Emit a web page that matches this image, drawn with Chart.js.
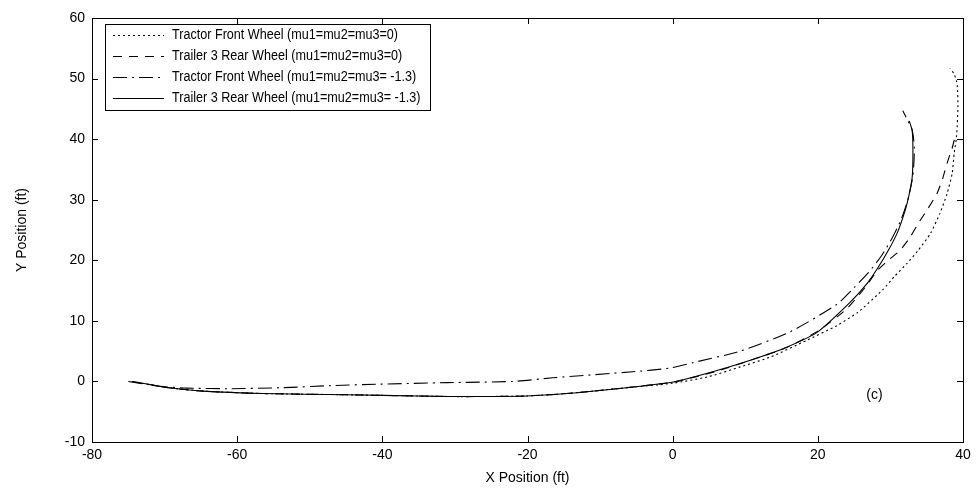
<!DOCTYPE html>
<html>
<head>
<meta charset="utf-8">
<script src="https://cdn.jsdelivr.net/npm/chart.js@4.4.1/dist/chart.umd.min.js"></script>
<style>
  html, body { margin: 0; padding: 0; background: #fff; }
</style>
</head>
<body>
<canvas id="chart" width="979" height="492"></canvas>
<script>
/* ─── DATA (ft) ─────────────────────────────────────── */
const seriesLabels = [
  "Tractor Front Wheel (mu1=mu2=mu3=0)",
  "Trailer 3 Rear Wheel (mu1=mu2=mu3=0)",
  "Tractor Front Wheel (mu1=mu2=mu3= -1.3)",
  "Trailer 3 Rear Wheel (mu1=mu2=mu3= -1.3)"
];

const xTicks = [-80, -60, -40, -20, 0, 20, 40];
const yTicks = [-10, 0, 10, 20, 30, 40, 50, 60];

const frontMu0X = [-74.5, -69.7, -64.7, -56.4, -44.9, -29.8, -20.1, -14.6, -7.7, 0.0, 5.0, 9.3, 13.4, 18.5, 22.6, 25.5, 29.0, 30.6, 32.3, 33.8, 35.5, 36.8, 37.8, 38.5, 38.8, 39.1, 39.3, 39.2, 38.8, 38.2];
const frontMu0Y = [0, -1.0, -1.6, -2.0, -2.2, -2.5, -2.4, -2.0, -1.2, -0.3, 0.8, 2.4, 4.0, 6.8, 9.2, 11.4, 15.2, 17.4, 19.5, 21.6, 24.4, 27.7, 31.0, 34.3, 37.8, 40.3, 45.0, 49.0, 50.7, 51.7];

const rearMu0X = [-74.5, -69.7, -64.7, -56.4, -44.9, -29.8, -20.1, -14.6, -7.7, 0.1, 6.1, 10.0, 15.5, 20.0, 24.0, 26.5, 28.2, 29.7, 31.3, 32.7, 34.1, 35.0, 36.4, 37.2, 37.8, 38.5, 38.9];
const rearMu0Y = [0, -1.0, -1.6, -2.0, -2.2, -2.5, -2.4, -2.0, -1.2, -0.1, 1.7, 3.2, 5.5, 8.3, 12.0, 15.5, 18.3, 20.0, 21.6, 23.8, 26.6, 28.2, 31.0, 33.5, 36.0, 38.5, 40.3];

const frontMu13X = [-75, -70.6, -67, -61, -54.1, -47.2, -40.3, -31.1, -22, -16.5, -5.5, -0.4, 2.8, 9.3, 16.2, 22.6, 25, 27, 28.8, 30.3, 31.5, 32.4, 33.1, 33.3, 33.0, 32.2, 31.7];
const frontMu13Y = [0, -0.8, -1.1, -1.2, -1.05, -0.7, -0.45, -0.2, 0, 0.6, 1.6, 2.2, 3.1, 5.0, 8.2, 12.7, 15.5, 18.0, 20.8, 23.8, 26.8, 30.0, 34.0, 38.5, 41.5, 43.5, 44.7];

const rearMu13X = [-74.5, -72, -69.7, -64.7, -56.4, -44.9, -35, -29.8, -20.1, -14.6, -7.7, 0.1, 6.1, 10.7, 15.2, 19.9, 24.4, 26.8, 28.3, 29.7, 30.9, 31.7, 32.4, 33.0, 33.1, 33.0, 32.6];
const rearMu13Y = [0, -0.5, -1.0, -1.6, -2.0, -2.2, -2.4, -2.5, -2.4, -2.0, -1.2, -0.1, 1.8, 3.5, 5.4, 8.1, 13.0, 16.2, 18.8, 21.6, 24.4, 27.0, 29.9, 33.7, 38.1, 41.4, 43.0];

const panelTag = "(c)";

/* ─── HELPERS ────────────────────────────────────────── */
const pts = (xs, ys) => xs.map((x, i) => ({ x, y: ys[i] }));
const FONT = "'Liberation Sans', Arial, sans-serif";

function line(label, data, dash) {
  return {
    label,
    data,
    showLine: true,
    borderColor: "#000",
    backgroundColor: "#000",
    borderWidth: 1.1,
    borderDash: dash,
    pointRadius: 0,
    tension: 0.2,
    fill: false,
  };
}

/* ─── FRAME, TICKS, LEGEND ───────────────────────────── */
const matlabLook = {
  id: "matlabLook",
  afterDraw(chart) {
    const { ctx, chartArea: a, scales: { x, y } } = chart;
    ctx.save();
    ctx.strokeStyle = "#000";
    ctx.lineWidth = 1;
    ctx.setLineDash([]);
    ctx.strokeRect(a.left + 0.5, a.top + 0.5, a.right - a.left, a.bottom - a.top);

    ctx.beginPath();
    x.ticks.forEach(t => {
      const px = Math.round(x.getPixelForValue(t.value)) + 0.5;
      ctx.moveTo(px, a.bottom); ctx.lineTo(px, a.bottom - 6);
      ctx.moveTo(px, a.top);    ctx.lineTo(px, a.top + 6);
    });
    y.ticks.forEach(t => {
      const py = Math.round(y.getPixelForValue(t.value)) + 0.5;
      ctx.moveTo(a.left, py);  ctx.lineTo(a.left + 6, py);
      ctx.moveTo(a.right, py); ctx.lineTo(a.right - 6, py);
    });
    ctx.stroke();

    // legend box (text squeezed a little, like the source bitmap)
    const squeeze = 0.9;
    ctx.font = `14px ${FONT}`;
    ctx.textBaseline = "middle";
    const sets = chart.data.datasets;
    const textX = 172;
    const rowY = [35, 56, 77, 98];
    const widest = Math.max(...sets.map(d => ctx.measureText(d.label).width)) * squeeze;
    const boxW = Math.round(textX + widest + 10 - 105);
    ctx.fillStyle = "#fff";
    ctx.fillRect(105, 24, boxW, 86);
    ctx.strokeRect(105.5, 24.5, boxW, 86);
    ctx.fillStyle = "#000";
    sets.forEach((d, i) => {
      ctx.setLineDash(d.borderDash);
      ctx.beginPath();
      ctx.moveTo(113, rowY[i] + 0.5);
      ctx.lineTo(164, rowY[i] + 0.5);
      ctx.stroke();
      ctx.setLineDash([]);
      ctx.save();
      ctx.translate(textX, rowY[i]);
      ctx.scale(squeeze, 1);
      ctx.fillText(d.label, 0, 0);
      ctx.restore();
    });

    // panel tag
    ctx.font = `14px ${FONT}`;
    ctx.textAlign = "center";
    ctx.fillText(panelTag, x.getPixelForValue(27.8), y.getPixelForValue(-2.3));
    ctx.restore();
  }
};

/* ─── CHART ──────────────────────────────────────────── */
Chart.defaults.font.family = FONT;
Chart.defaults.font.size = 14;
Chart.defaults.color = "#000";

new Chart(document.getElementById("chart"), {
  type: "scatter",
  data: {
    datasets: [
      line(seriesLabels[0], pts(frontMu0X, frontMu0Y), [2, 3]),
      line(seriesLabels[1], pts(rearMu0X, rearMu0Y), [9, 7]),
      line(seriesLabels[2], pts(frontMu13X, frontMu13Y), [14, 5, 2, 5]),
      line(seriesLabels[3], pts(rearMu13X, rearMu13Y), []),
    ],
  },
  options: {
    responsive: false,
    animation: false,
    layout: { padding: { top: 18, right: 16, bottom: 0, left: 0 } },
    plugins: { legend: { display: false }, tooltip: { enabled: false } },
    scales: {
      x: {
        type: "linear",
        min: -80, max: 40,
        afterBuildTicks: s => { s.ticks = xTicks.map(v => ({ value: v })); },
        afterFit: s => { s.height = 50; },
        grid: { display: false, drawTicks: false },
        border: { display: false },
        ticks: { padding: 5, maxRotation: 0 },
        title: { display: true, text: "X Position (ft)", font: { size: 14 }, padding: { top: 0, bottom: 5 } },
      },
      y: {
        type: "linear",
        min: -10, max: 60,
        afterBuildTicks: s => { s.ticks = yTicks.map(v => ({ value: v })); },
        afterFit: s => { s.width = 92; },
        grid: { display: false, drawTicks: false },
        border: { display: false },
        ticks: { padding: 7 },
        title: { display: true, text: "Y Position (ft)", font: { size: 14 }, padding: { top: 14, bottom: 0 } },
      },
    },
  },
  plugins: [matlabLook],
});
</script>
</body>
</html>
